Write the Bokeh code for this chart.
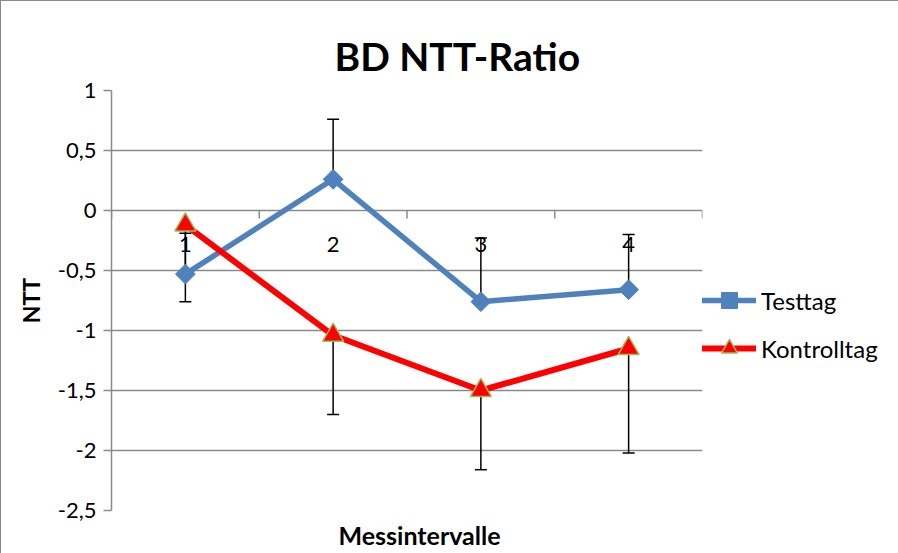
import math
from bokeh.plotting import figure
from bokeh.models import (Range1d, FixedTicker, CustomJSTickFormatter, Title,
                          Legend, LegendItem, ColumnDataSource)
from bokeh.core.properties import value
from bokeh.embed import file_html
from bokeh.resources import INLINE

# ---- data ----
categories = ["1", "2", "3", "4"]
testtag = [-0.53, 0.26, -0.76, -0.66]
testtag_err_plus = [0.34, 0.50, 0.53, 0.46]
kontrolltag = [-0.12, -1.04, -1.50, -1.15]
kontrolltag_err_minus = [0.64, 0.66, 0.66, 0.87]
y_ticks = [-2.5, -2.0, -1.5, -1.0, -0.5, 0.0, 0.5, 1.0]
title_text = "BD NTT-Ratio"
x_title = "Messintervalle"
y_title = "NTT"
x_axis_cross = 0.0

FONT = "Lato"
GRID = "#8a8a8a"
BLUE = "#4f81bd"
RED = "#ff0000"

xs = [i + 1 for i in range(len(categories))]
bounds = [i + 0.5 for i in range(len(categories) + 1)]

p = figure(frame_width=591, frame_height=420, output_backend="svg", toolbar_location=None,
           x_range=Range1d(bounds[0], bounds[-1]),
           y_range=Range1d(y_ticks[0], y_ticks[-1]),
           x_axis_location=None,
           min_border_left=110, min_border_right=180,
           min_border_top=89, min_border_bottom=0)
p.outline_line_color = None
p.styles = {"border-left": "1.5px solid #8a8a8a", "border-top": "1.5px solid #8a8a8a"}

# title (above)
p.title = Title(text=title_text, align="left", offset=223, standoff=23,
                text_font=FONT, text_font_style="bold", text_font_size="39px",
                text_color="black")

# y axis
ya = p.yaxis[0]
ya.ticker = FixedTicker(ticks=y_ticks)
ya.formatter = CustomJSTickFormatter(code="return tick.toString().replace('.', ',');")
ya.axis_line_color = GRID
ya.axis_line_width = 1.5
ya.major_tick_line_color = GRID
ya.major_tick_line_width = 1.5
ya.major_tick_out = 8
ya.major_tick_in = 0
ya.minor_tick_line_color = None
ya.major_label_standoff = 7
ya.major_label_text_font = FONT
ya.major_label_text_font_size = "22px"
ya.major_label_text_color = "black"
ya.axis_label = y_title
ya.axis_label_text_font = FONT
ya.axis_label_text_font_style = "bold"
ya.axis_label_text_font_size = "23px"
ya.axis_label_text_color = "black"
ya.axis_label_standoff = 10

p.ygrid.ticker = FixedTicker(ticks=y_ticks)
p.ygrid.grid_line_color = GRID
p.ygrid.grid_line_width = 1.5
p.xgrid.visible = False

# x title below
p.add_layout(Title(text=x_title, align="left", offset=227, standoff=14,
                   text_font=FONT, text_font_style="bold", text_font_size="25px",
                   text_color="black"), "below")

# category axis drawn at y = 0
p.ray(x=bounds, y=[x_axis_cross] * len(bounds), length=8, length_units="screen",
      angle=-math.pi / 2, line_color=GRID, line_width=1.5)
p.text(x=xs, y=[x_axis_cross] * len(xs), text=categories, text_align="center",
       text_baseline="middle", y_offset=34, text_font=value(FONT),
       text_font_size="22px", text_color="black")

# error bars
t_top = [v + e for v, e in zip(testtag, testtag_err_plus)]
k_bot = [v - e for v, e in zip(kontrolltag, kontrolltag_err_minus)]
p.segment(x0=xs, y0=testtag, x1=xs, y1=t_top, line_color="black", line_width=1.5)
p.scatter(x=xs, y=t_top, marker="dash", size=12, line_color="black", line_width=1.5)
p.segment(x0=xs, y0=kontrolltag, x1=xs, y1=k_bot, line_color="black", line_width=1.5)
p.scatter(x=xs, y=k_bot, marker="dash", size=12, line_color="black", line_width=1.5)

# series
src_t = ColumnDataSource(dict(x=xs, y=testtag))
src_k = ColumnDataSource(dict(x=xs, y=kontrolltag))
lt = p.line("x", "y", source=src_t, line_color=BLUE, line_width=5.5, line_join="round", line_cap="round")
mt = p.scatter("x", "y", source=src_t, marker="square", angle=math.pi / 4, size=14,
               fill_color=BLUE, line_color=BLUE)
lk = p.line("x", "y", source=src_k, line_color=RED, line_width=6, line_join="round", line_cap="round")
mk = p.scatter("x", "y", source=src_k, marker="triangle", size=21,
               fill_color=RED, line_color="#9bbb59", line_width=1.5)

legend = Legend(items=[LegendItem(label="Testtag", renderers=[lt, mt]),
                       LegendItem(label="Kontrolltag", renderers=[lk, mk])],
                location=(0, 142), margin=0, padding=0, spacing=8,
                glyph_width=54, glyph_height=40, label_height=40,
                label_standoff=5, border_line_color=None, background_fill_alpha=0,
                label_text_font=FONT, label_text_font_size="24px", label_text_color="black")
p.add_layout(legend, "right")

open("out.html", "w").write(file_html(p, INLINE))
